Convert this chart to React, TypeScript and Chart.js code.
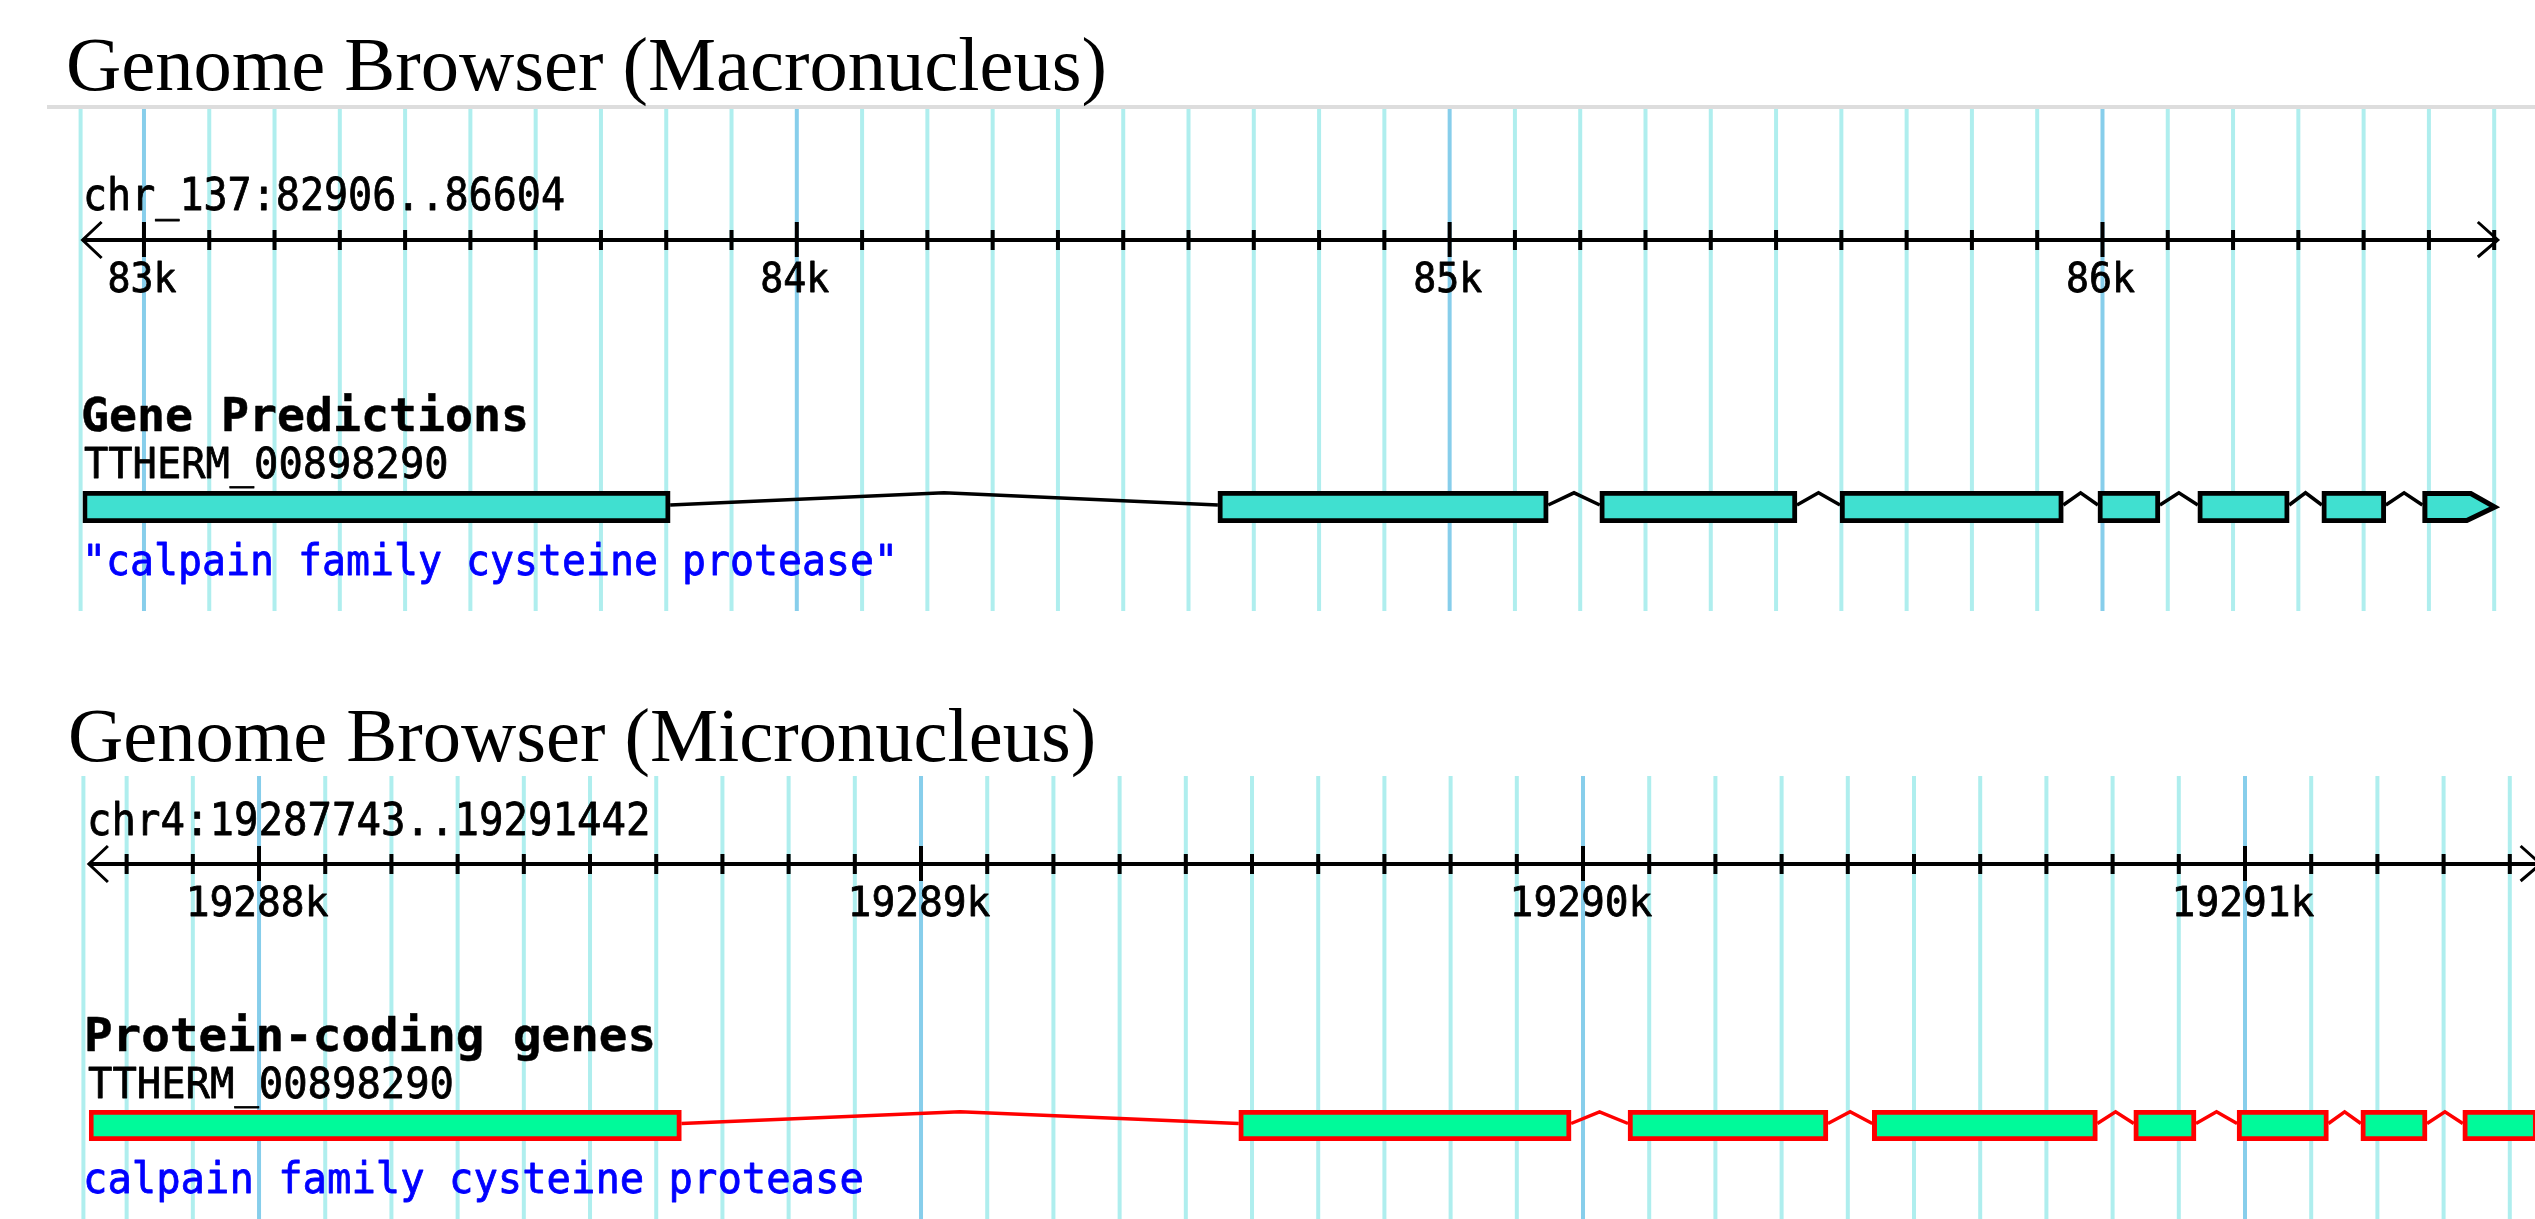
import React, { useEffect, useRef } from 'react';
import { Chart, registerables } from 'chart.js';

Chart.register(...registerables);

// ---------- Macronucleus panel data ----------
const macroTitle = 'Genome Browser (Macronucleus)';
const macroLocus = 'chr_137:82906..86604';
const macroRange = [82906, 86604];
const macroTickValues = [83000, 84000, 85000, 86000];
const macroTickLabels = ['83k', '84k', '85k', '86k'];
const macroTrack = 'Gene Predictions';
const macroGene = 'TTHERM_00898290';
const macroNote = '"calpain family cysteine protease"';
const macroExonStarts = [82906, 84645, 85230, 85598, 85993, 86146, 86336, 86490];
const macroExonEnds = [83806, 85151, 85532, 85940, 86088, 86286, 86434, 86604];

// ---------- Micronucleus panel data ----------
const microTitle = 'Genome Browser (Micronucleus)';
const microLocus = 'chr4:19287743..19291442';
const microRange = [19287743, 19291442];
const microTickValues = [19288000, 19289000, 19290000, 19291000];
const microTickLabels = ['19288k', '19289k', '19290k', '19291k'];
const microTrack = 'Protein-coding genes';
const microGene = 'TTHERM_00898290';
const microNote = 'calpain family cysteine protease';
const microExonStarts = [19287743, 19289480, 19290068, 19290437, 19290832, 19290988, 19291175, 19291329];
const microExonEnds = [19288638, 19289982, 19290370, 19290777, 19290926, 19291126, 19291275, 19291442];

const GRID_LIGHT = '#AFEEEE';
const GRID_DARK = '#87CEEB';
const MONO = '"DejaVu Sans Mono"';

type Layout = {
  top: number; width: number; height: number;
  padLeft: number; padRight: number; padTop: number; padBottom: number;
  gridTop: number; gridBottom: number; edgeOffset: number;
  rulerY: number; arrowTipExtra: number;
  locusX: number; locusBaseline: number; locusSize: number; locusCharW: number;
  tickBaseline: number; tickSize: number; tickCharW: number;
  trackX: number; trackBaseline: number; trackSize: number; trackCharW: number;
  geneX: number; geneBaseline: number; geneSize: number; geneCharW: number;
  noteX: number; noteBaseline: number; noteSize: number; noteCharW: number;
  fill: string; stroke: string; intron: string; arrowExon: boolean;
};

const macroLayout: Layout = {
  top: 0, width: 2535, height: 611,
  padLeft: 82.6, padRight: 38.2, padTop: 491, padBottom: 88,
  gridTop: 109, gridBottom: 611, edgeOffset: 2,
  rulerY: 240, arrowTipExtra: 1,
  locusX: 83, locusBaseline: 210, locusSize: 44, locusCharW: 24.1,
  tickBaseline: 292, tickSize: 40, tickCharW: 23,
  trackX: 81, trackBaseline: 431, trackSize: 46, trackCharW: 28,
  geneX: 84, geneBaseline: 478, geneSize: 42, geneCharW: 24.3,
  noteX: 82, noteBaseline: 575, noteSize: 42, noteCharW: 24,
  fill: '#40E0D0', stroke: '#000000', intron: '#000000', arrowExon: true,
};

const microLayout: Layout = {
  top: 611, width: 2560, height: 608,
  padLeft: 88.9, padRight: 22.4, padTop: 499, padBottom: 78,
  gridTop: 165, gridBottom: 608, edgeOffset: 5.5,
  rulerY: 253, arrowTipExtra: 3,
  locusX: 87, locusBaseline: 224, locusSize: 44, locusCharW: 24.5,
  tickBaseline: 305, tickSize: 40, tickCharW: 23.8,
  trackX: 84, trackBaseline: 440, trackSize: 46, trackCharW: 28.6,
  geneX: 88, geneBaseline: 487, geneSize: 42, geneCharW: 24.4,
  noteX: 83, noteBaseline: 582, noteSize: 42, noteCharW: 24.4,
  fill: '#00FA9A', stroke: '#FF0000', intron: '#FF0000', arrowExon: false,
};

function drawMono(
  ctx: CanvasRenderingContext2D, text: string, x: number, y: number,
  size: number, charW: number, bold: boolean, color: string, align: 'left' | 'center' = 'left'
) {
  ctx.save();
  ctx.font = `${bold ? 'bold ' : ''}${size}px ${MONO}`;
  ctx.textBaseline = 'alphabetic';
  ctx.textAlign = 'left';
  ctx.fillStyle = color;
  ctx.strokeStyle = color;
  ctx.lineWidth = bold ? 0.5 : 0.8;
  ctx.lineJoin = 'round';
  const w = ctx.measureText(text).width;
  const sx = (charW * text.length) / w;
  ctx.translate(x, y);
  ctx.scale(sx, 1);
  const tx = align === 'center' ? -w / 2 : 0;
  ctx.fillText(text, tx, 0);
  ctx.strokeText(text, tx, 0);
  ctx.restore();
}

type PanelProps = {
  layout: Layout; range: number[]; locus: string; tickValues: number[]; tickLabels: string[];
  track: string; gene: string; note: string; starts: number[]; ends: number[];
};

function GenomePanel(props: PanelProps) {
  const { layout: L, range, locus, tickValues, tickLabels, track, gene, note, starts, ends } = props;
  const ref = useRef<HTMLCanvasElement>(null);

  useEffect(() => {
    const canvas = ref.current;
    if (!canvas) return;
    const last = starts.length - 1;

    const trackPlugin = {
      id: 'genomeTrack',
      beforeDraw(chart: any) {
        const ctx: CanvasRenderingContext2D = chart.ctx;
        const xs = chart.scales.x;
        ctx.save();
        ctx.lineWidth = 4;
        const edge = xs.getPixelForValue(range[0]) - L.edgeOffset;
        ctx.strokeStyle = GRID_LIGHT;
        ctx.beginPath();
        ctx.moveTo(edge, L.gridTop);
        ctx.lineTo(edge, L.gridBottom);
        ctx.stroke();
        for (let v = Math.ceil(range[0] / 100) * 100; v <= range[1]; v += 100) {
          const px = xs.getPixelForValue(v);
          ctx.strokeStyle = v % 1000 === 0 ? GRID_DARK : GRID_LIGHT;
          ctx.beginPath();
          ctx.moveTo(px, L.gridTop);
          ctx.lineTo(px, L.gridBottom);
          ctx.stroke();
        }
        ctx.restore();
      },
      afterDatasetsDraw(chart: any) {
        const ctx: CanvasRenderingContext2D = chart.ctx;
        const xs = chart.scales.x;
        const area = chart.chartArea;
        const mid = (area.top + area.bottom) / 2;

        // introns (hats)
        ctx.save();
        ctx.strokeStyle = L.intron;
        ctx.lineWidth = 3.5;
        ctx.lineJoin = 'miter';
        for (let i = 0; i < last; i++) {
          const x1 = xs.getPixelForValue(ends[i]);
          const x2 = xs.getPixelForValue(starts[i + 1]);
          const xm = (x1 + x2) / 2;
          ctx.beginPath();
          ctx.moveTo(x1, mid - 2);
          ctx.lineTo(xm, area.top + 1.8);
          ctx.lineTo(x2, mid - 2);
          ctx.stroke();
        }
        ctx.restore();

        // last exon drawn as an arrow (strand direction)
        if (L.arrowExon) {
          const xa = xs.getPixelForValue(starts[last]);
          const xb = xs.getPixelForValue(ends[last]);
          const head = 26;
          const t = area.top + 2.5, b = area.bottom - 2.5;
          ctx.save();
          ctx.beginPath();
          ctx.moveTo(xa + 2.5, t);
          ctx.lineTo(xb - head, t);
          ctx.lineTo(xb - 2, mid);
          ctx.lineTo(xb - head - 4, b);
          ctx.lineTo(xa + 2.5, b);
          ctx.closePath();
          ctx.fillStyle = L.fill;
          ctx.fill();
          ctx.strokeStyle = L.stroke;
          ctx.lineWidth = 5;
          ctx.lineJoin = 'miter';
          ctx.stroke();
          ctx.restore();
        }

        // ruler
        const x0 = xs.getPixelForValue(range[0]);
        const x1 = xs.getPixelForValue(range[1]);
        const y = L.rulerY;
        ctx.save();
        ctx.strokeStyle = '#000';
        ctx.lineWidth = 4;
        ctx.beginPath();
        ctx.moveTo(x0, y);
        ctx.lineTo(x1 + L.arrowTipExtra, y);
        ctx.stroke();
        for (let v = Math.ceil(range[0] / 100) * 100; v <= range[1]; v += 100) {
          const px = xs.getPixelForValue(v);
          const major = v % 1000 === 0;
          ctx.beginPath();
          ctx.moveTo(px, major ? y - 18 : y - 10);
          ctx.lineTo(px, major ? y + 17 : y + 10);
          ctx.stroke();
        }
        ctx.lineWidth = 3;
        ctx.beginPath();
        ctx.moveTo(x0 + 19, y - 18);
        ctx.lineTo(x0, y);
        ctx.lineTo(x0 + 19, y + 18);
        const xt = x1 + L.arrowTipExtra;
        ctx.moveTo(xt - 20, y - 18);
        ctx.lineTo(xt, y);
        ctx.lineTo(xt - 20, y + 17);
        ctx.stroke();
        ctx.restore();

        // texts
        drawMono(ctx, locus, L.locusX, L.locusBaseline, L.locusSize, L.locusCharW, false, '#000');
        tickValues.forEach((v, i) => {
          drawMono(ctx, tickLabels[i], xs.getPixelForValue(v) - 2, L.tickBaseline, L.tickSize, L.tickCharW, false, '#000', 'center');
        });
        drawMono(ctx, track, L.trackX, L.trackBaseline, L.trackSize, L.trackCharW, true, '#000');
        drawMono(ctx, gene, L.geneX, L.geneBaseline, L.geneSize, L.geneCharW, false, '#000');
        drawMono(ctx, note, L.noteX, L.noteBaseline, L.noteSize, L.noteCharW, false, '#0000FF');
      },
    };

    const chart = new Chart(canvas, {
      type: 'bar',
      data: {
        labels: [gene],
        datasets: [
          {
            label: gene,
            data: starts.map((s, i) => ({ x: [s, ends[i]], y: gene })) as any,
            backgroundColor: (c: any) => (L.arrowExon && c.dataIndex === last ? 'rgba(0,0,0,0)' : L.fill),
            borderColor: (c: any) => (L.arrowExon && c.dataIndex === last ? 'rgba(0,0,0,0)' : L.stroke),
            borderWidth: 5,
            borderSkipped: false,
            barPercentage: 1,
            categoryPercentage: 1,
          } as any,
        ],
      },
      options: {
        indexAxis: 'y',
        responsive: false,
        animation: false,
        devicePixelRatio: 1,
        events: [],
        layout: { padding: { left: L.padLeft, right: L.padRight, top: L.padTop, bottom: L.padBottom } },
        scales: {
          x: { type: 'linear', min: range[0], max: range[1], display: false },
          y: { type: 'category', display: false },
        },
        plugins: {
          legend: { display: false },
          tooltip: { enabled: false },
          title: { display: false },
        },
      } as any,
      plugins: [trackPlugin],
    });
    return () => chart.destroy();
  }, []);

  return (
    <canvas
      ref={ref}
      width={L.width}
      height={L.height}
      style={{ position: 'absolute', left: 0, top: L.top, width: L.width, height: L.height }}
    />
  );
}

const titleStyle: React.CSSProperties = {
  position: 'absolute',
  fontFamily: '"Liberation Serif", serif',
  fontSize: 76.5,
  lineHeight: '76px',
  color: '#000',
  whiteSpace: 'nowrap',
  margin: 0,
};

export default function App() {
  return (
    <div style={{ position: 'absolute', left: 0, top: 0, width: 2535, height: 1219, overflow: 'hidden', background: '#fff' }}>
      <GenomePanel
        layout={macroLayout} range={macroRange} locus={macroLocus}
        tickValues={macroTickValues} tickLabels={macroTickLabels}
        track={macroTrack} gene={macroGene} note={macroNote}
        starts={macroExonStarts} ends={macroExonEnds}
      />
      <GenomePanel
        layout={microLayout} range={microRange} locus={microLocus}
        tickValues={microTickValues} tickLabels={microTickLabels}
        track={microTrack} gene={microGene} note={microNote}
        starts={microExonStarts} ends={microExonEnds}
      />
      <div style={{ position: 'absolute', left: 47, top: 105, width: 2488, height: 4, background: '#DDDDDD' }} />
      <div style={{ ...titleStyle, left: 66, top: 27 }}>{macroTitle}</div>
      <div style={{ ...titleStyle, left: 68, top: 698 }}>{microTitle}</div>
    </div>
  );
}
